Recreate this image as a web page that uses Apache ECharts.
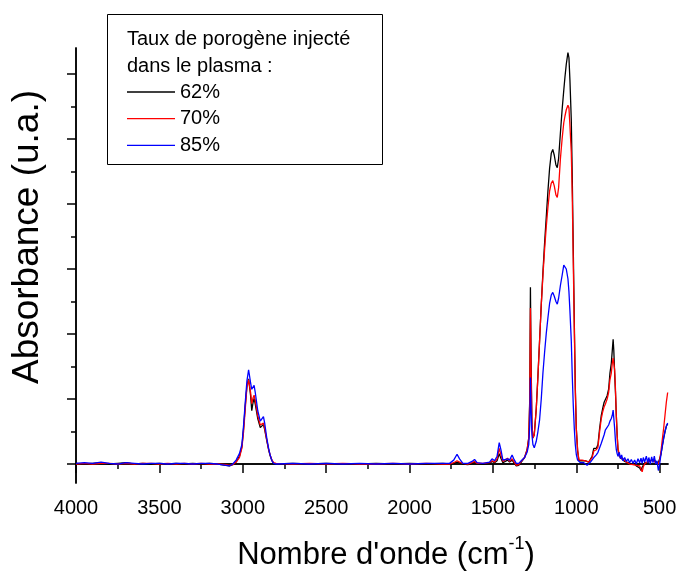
<!DOCTYPE html>
<html><head><meta charset="utf-8">
<script src="https://cdn.jsdelivr.net/npm/echarts@6/dist/echarts.min.js"></script>
<style>html,body{margin:0;padding:0;background:#fff}#c{width:678px;height:571px}</style>
</head><body><div id="c"></div>
<script>
const wavenumbers = [4000,3950,3900,3850,3800,3750,3700,3650,3600,3550,3500,3450,3400,3350,3300,3250,3200,3150,3100,3080,3060,3040,3020,3005,2995,2985,2975,2965,2960,2953,2946,2938,2932,2925,2910,2895,2885,2876,2868,2856,2845,2836,2825,2815,2800,2700,2600,2500,2400,2300,2200,2100,2000,1900,1800,1760,1735,1715,1700,1680,1650,1625,1610,1595,1560,1520,1505,1490,1475,1462,1452,1440,1430,1412,1400,1385,1375,1360,1345,1330,1310,1295,1285,1279,1275,1271,1266,1260,1252,1240,1230,1220,1210,1200,1190,1180,1170,1160,1150,1141,1132,1122,1114,1106,1095,1085,1075,1068,1060,1050,1044,1038,1030,1024,1018,1012,1006,1000,992,984,975,965,955,945,935,925,915,905,895,888,880,870,860,850,842,833,826,815,806,798,790,784,779,775,770,765,760,755,750,742,735,728,720,710,700,690,680,670,660,650,640,630,620,612,605,598,590,580,572,565,556,548,540,532,524,516,508,500,492,484,476,468,460,452];
const abs62 = [0.01,0.00,0.01,0.02,0.00,0.01,0.02,0.00,0.01,0.00,0.01,0.00,0.01,0.00,0.01,0.00,0.01,0.00,-0.02,-0.03,-0.01,0.03,0.12,0.27,0.55,0.90,1.20,1.31,1.28,1.05,0.82,0.95,1.01,0.92,0.70,0.56,0.57,0.61,0.52,0.36,0.22,0.13,0.05,0.01,0.00,0.01,0.00,0.01,0.00,0.00,0.01,0.00,0.01,0.00,0.01,0.00,0.01,0.03,0.02,0.00,-0.01,0.01,0.03,0.01,0.00,0.01,0.04,0.02,0.05,0.16,0.09,0.02,0.03,0.06,0.03,0.06,0.03,-0.03,-0.02,0.03,0.10,0.22,0.40,1.00,2.72,1.60,0.60,0.40,0.45,0.85,1.35,1.90,2.45,2.95,3.40,3.80,4.20,4.55,4.78,4.84,4.75,4.60,4.56,4.70,5.10,5.45,5.75,5.95,6.15,6.33,6.25,5.90,5.30,4.40,3.30,2.20,1.20,0.55,0.20,0.05,0.02,0.05,0.03,0.05,0.02,0.03,0.05,0.12,0.24,0.27,0.24,0.30,0.55,0.75,0.85,0.95,0.98,1.05,1.15,1.40,1.55,1.75,1.92,1.75,1.40,1.10,0.75,0.45,0.22,0.12,0.15,0.08,0.10,0.04,0.06,0.02,0.04,0.00,-0.02,0.01,-0.03,0.00,-0.06,-0.10,-0.05,-0.02,0.02,0.05,0.01,0.05,0.02,0.06,0.03,0.07,0.03,0.00,0.02,0.08,0.15,0.28,0.40,0.50,0.58,0.62];
const abs70 = [0.00,0.01,0.00,0.01,0.01,0.00,0.01,0.00,0.01,0.01,0.00,0.01,0.00,0.01,0.00,0.01,0.00,0.00,-0.01,-0.02,-0.01,0.03,0.10,0.25,0.50,0.85,1.18,1.30,1.27,1.10,0.93,1.02,1.06,0.98,0.74,0.60,0.60,0.63,0.54,0.37,0.23,0.14,0.06,0.02,0.01,0.00,0.01,0.00,0.01,0.00,0.00,0.01,0.00,0.01,0.00,0.00,0.02,0.05,0.03,0.01,0.00,0.02,0.04,0.01,0.01,0.02,0.05,0.03,0.08,0.24,0.14,0.04,0.05,0.09,0.04,0.08,0.04,-0.02,-0.01,0.04,0.10,0.22,0.40,0.95,2.40,1.45,0.60,0.40,0.45,0.85,1.35,1.90,2.45,2.90,3.30,3.65,3.95,4.20,4.32,4.36,4.28,4.14,4.10,4.25,4.70,5.00,5.25,5.35,5.45,5.52,5.48,5.20,4.80,4.10,3.10,2.10,1.15,0.55,0.22,0.06,0.03,0.06,0.04,0.05,0.02,0.03,0.05,0.10,0.20,0.22,0.22,0.26,0.50,0.70,0.80,0.88,0.92,1.00,1.10,1.30,1.40,1.55,1.63,1.60,1.45,1.15,0.75,0.45,0.25,0.14,0.10,0.12,0.08,0.06,0.03,0.05,0.00,0.02,-0.01,-0.04,-0.02,-0.05,-0.03,-0.08,-0.12,-0.04,0.00,0.03,0.04,0.02,0.05,0.03,0.06,0.04,0.02,0.01,0.00,0.06,0.20,0.38,0.55,0.75,0.95,1.10];
const abs85 = [0.01,0.02,0.01,0.03,0.01,0.00,0.02,0.01,0.00,0.01,0.01,0.00,0.01,0.01,0.00,0.01,0.01,0.00,-0.02,-0.03,0.00,0.06,0.16,0.30,0.60,0.95,1.28,1.45,1.42,1.25,1.15,1.17,1.21,1.10,0.82,0.66,0.68,0.73,0.62,0.40,0.24,0.14,0.05,0.01,0.00,0.01,0.00,0.01,0.00,0.01,0.00,0.01,0.00,0.01,0.01,0.01,0.06,0.15,0.08,0.01,0.01,0.04,0.07,0.02,0.01,0.03,0.08,0.05,0.12,0.33,0.22,0.06,0.05,0.08,0.06,0.14,0.08,0.01,0.01,0.05,0.10,0.18,0.30,0.60,1.33,0.85,0.45,0.30,0.25,0.35,0.50,0.68,1.00,1.40,1.72,2.01,2.25,2.47,2.60,2.64,2.58,2.50,2.46,2.55,2.75,2.90,3.06,3.06,3.00,2.85,2.65,2.35,1.90,1.35,0.90,0.55,0.30,0.15,0.06,0.03,0.02,0.04,0.02,0.00,-0.02,0.00,0.03,0.06,0.10,0.12,0.14,0.18,0.25,0.32,0.38,0.45,0.52,0.55,0.60,0.66,0.70,0.75,0.83,0.80,0.55,0.35,0.22,0.16,0.12,0.18,0.08,0.14,0.05,0.10,0.04,0.08,0.02,0.07,0.01,0.06,0.00,0.08,0.02,0.09,0.01,0.10,0.03,0.12,0.02,0.10,0.00,0.11,0.02,0.12,0.00,0.05,-0.10,0.00,0.15,0.28,0.40,0.50,0.58,0.63];
const seriesNames = ['62%', '70%', '85%'];
const seriesValues = [abs62, abs70, abs85];
const seriesColors = ['#000000', '#ff0000', '#0000ff'];
const majorXTicks = [4000, 3500, 3000, 2500, 2000, 1500, 1000, 500];
const minorXTicks = [3750, 3250, 2750, 2250, 1750, 1250, 750];
const majorYTicks = [0, 1, 2, 3, 4, 5, 6];
const minorYTicks = [0.5, 1.5, 2.5, 3.5, 4.5, 5.5];
const legendTitle = ['Taux de porogène injecté', 'dans le plasma :'];
const xTitle = "Nombre d'onde (cm";
const yTitle = 'Absorbance (u.a.)';

const FONT = "'Liberation Sans', Arial, Helvetica, sans-serif";
const chart = echarts.init(document.getElementById('c'), null, {renderer: 'canvas'});
const axisLine = {show: true, lineStyle: {color: '#000', width: 1.5}};
const xCommon = {type: 'value', min: 450, max: 4000, inverse: true, position: 'bottom', splitLine: {show: false}, axisLine: axisLine};
const yCommon = {type: 'value', min: -0.292, max: 6.4, position: 'left', splitLine: {show: false}, axisLine: axisLine, axisLabel: {show: false}};

const option = {
  animation: false,
  backgroundColor: '#ffffff',
  grid: {left: 76, right: 10, top: 48, bottom: 88, containLabel: false, outerBoundsMode: 'none'},
  xAxis: [
    Object.assign({}, xCommon, {
      axisTick: {show: true, length: 9, customValues: majorXTicks, lineStyle: {color: '#000', width: 1.5}},
      axisLabel: {show: true, customValues: majorXTicks, margin: 15, color: '#000', fontSize: 20, fontFamily: FONT,
                  formatter: v => String(v)}
    }),
    Object.assign({}, xCommon, {
      axisTick: {show: true, length: 5, customValues: minorXTicks, lineStyle: {color: '#000', width: 1.5}},
      axisLabel: {show: false}
    })
  ],
  yAxis: [
    Object.assign({}, yCommon, {
      axisTick: {show: true, length: 9, customValues: majorYTicks, lineStyle: {color: '#000', width: 1.5}}
    }),
    Object.assign({}, yCommon, {
      axisTick: {show: true, length: 5, customValues: minorYTicks, lineStyle: {color: '#000', width: 1.5}}
    })
  ],
  legend: {
    orient: 'vertical', left: 127, top: 82, padding: 0,
    itemWidth: 48, itemHeight: 14, itemGap: 6.7,
    icon: 'path://M0,0 L48,0 L48,1.3 L0,1.3 Z',
    textStyle: {fontSize: 20, fontFamily: FONT, color: '#000', lineHeight: 20},
    data: seriesNames.map((n, i) => ({name: n, itemStyle: {color: seriesColors[i]}})),
    z: 10
  },
  graphic: [
    {type: 'rect', left: 107, top: 14, z: 5, shape: {width: 275, height: 150}, style: {fill: '#fff', stroke: '#000', lineWidth: 1}},
    {type: 'text', left: 127, top: 29, z: 6, style: {text: legendTitle[0], font: '20px ' + FONT, fill: '#000'}},
    {type: 'text', left: 127, top: 56, z: 6, style: {text: legendTitle[1], font: '20px ' + FONT, fill: '#000'}},
    {type: 'text', x: 386, y: 553, z: 6, style: {
      text: '{t|' + xTitle + '}{s|-1}{t|)}', align: 'center', verticalAlign: 'middle',
      rich: {t: {fontSize: 31, fontFamily: FONT, fill: '#000', lineHeight: 35, verticalAlign: 'bottom'},
             s: {fontSize: 18, fontFamily: FONT, fill: '#000', lineHeight: 35, verticalAlign: 'top'}}
    }},
    {type: 'text', x: 28, y: 237, rotation: Math.PI / 2, z: 6, style: {
      text: yTitle, font: '37px ' + FONT, fill: '#000', align: 'center', verticalAlign: 'middle'
    }}
  ],
  series: seriesNames.map((n, i) => ({
    name: n, type: 'line', xAxisIndex: 0, yAxisIndex: 0,
    data: wavenumbers.map((w, k) => [w, seriesValues[i][k]]),
    symbol: 'none', smooth: false,
    lineStyle: {color: seriesColors[i], width: 1.3},
    itemStyle: {color: seriesColors[i]},
    z: 2 + i
  }))
};
chart.setOption(option);
</script>
</body></html>
